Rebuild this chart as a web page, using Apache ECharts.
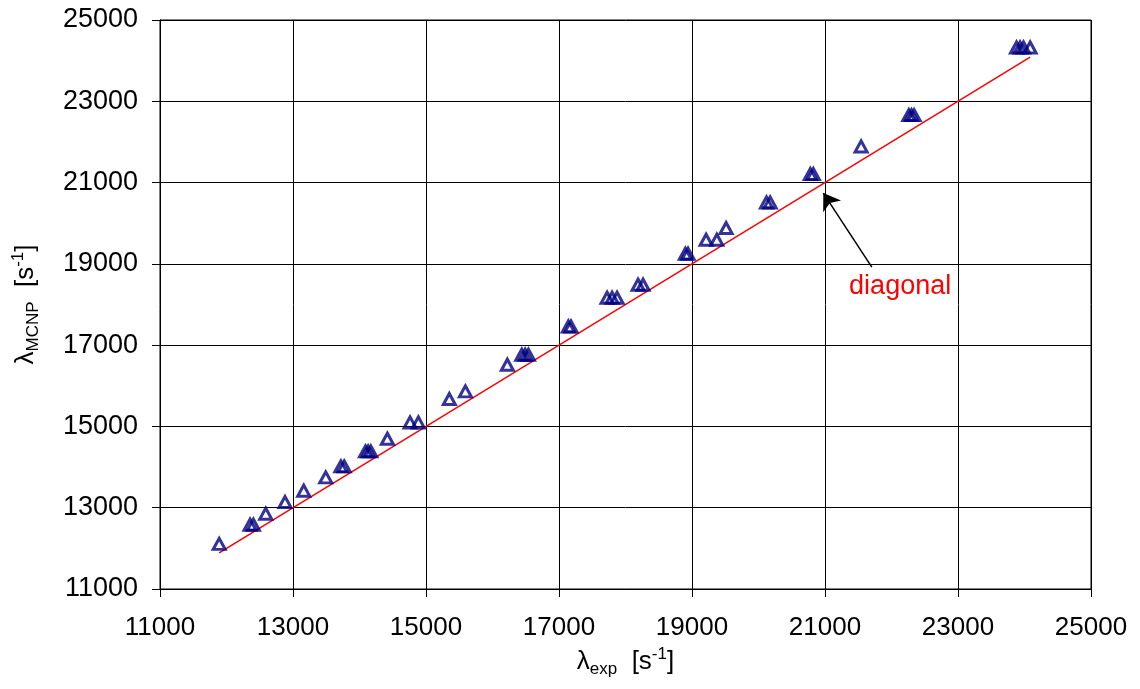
<!DOCTYPE html>
<html>
<head>
<meta charset="utf-8">
<script src="https://cdn.jsdelivr.net/npm/echarts@6/dist/echarts.min.js"></script>
<style>
html,body{margin:0;padding:0;background:#fff;}
#chart{width:1140px;height:689px;}
</style>
</head>
<body>
<div id="chart"></div>
<script>
// Experimental vs MCNP values (s^-1)
const lambdaExp = [11890,12354,12404,12590,12880,13161,13492,13720,13770,14090,14130,14170,14419,14760,14885,15351,15592,16223,16440,16490,16540,17140,17180,17723,17798,17873,18189,18264,18900,18940,19212,19373,19513,20120,20175,20780,20825,21543,22260,22300,22340,23880,23934,23985,24085];
const lambdaMCNP = [12110,12582,12582,12852,13140,13418,13745,14016,14016,14385,14385,14385,14697,15098,15098,15674,15861,16518,16764,16764,16764,17460,17460,18166,18166,18166,18486,18486,19249,19249,19593,19593,19881,20511,20511,21209,21209,21888,22660,22660,22660,24323,24323,24323,24323];
const diagonalX = [11890, 24085];
const diagonalY = [11890, 24085];
const yTicks = [11000,13000,15000,17000,19000,21000,23000,25000];
const xTicks = [11000,13000,15000,17000,19000,21000,23000,25000];
const arrowFrom = [21704, 18921];
const arrowTo = [20975, 20742];
const labelAt = [22130, 18430];
const labelText = 'diagonal';

const font = 'Liberation Sans, Arial, sans-serif';
const points = lambdaExp.map((x, i) => [x, lambdaMCNP[i]]);
const diag = diagonalX.map((x, i) => [x, diagonalY[i]]);
const plain = v => String(v);
const nameRich = {
  m: {fontFamily: font, fontSize: 26, color: '#000', lineHeight: 32, verticalAlign: 'middle'},
  sub: {fontFamily: font, fontSize: 17, color: '#000', lineHeight: 32, verticalAlign: 'bottom'},
  sup: {fontFamily: font, fontSize: 17, color: '#000', lineHeight: 32, verticalAlign: 'top'}
};

const chart = echarts.init(document.getElementById('chart'), null, {renderer: 'canvas'});
chart.setOption({
  animation: false,
  backgroundColor: '#fff',
  grid: {left: 160, right: 49, top: 20, bottom: 100, show: true, borderColor: '#000', borderWidth: 1},
  xAxis: {
    type: 'value', min: xTicks[0], max: xTicks[xTicks.length-1], interval: 2000,
    axisLine: {show: true, lineStyle: {color: '#000', width: 1}},
    axisTick: {show: true, length: 8, lineStyle: {color: '#000'}},
    axisLabel: {color: '#000', fontFamily: font, fontSize: 26, margin: 26, formatter: plain},
    splitLine: {show: true, lineStyle: {color: '#000', width: 1}},
    name: '{m|λ}{sub|exp}{m|  [s}{sup|-1}{m|]}',
    nameLocation: 'middle', nameGap: 52,
    nameTextStyle: {rich: nameRich}
  },
  yAxis: {
    type: 'value', min: yTicks[0], max: yTicks[yTicks.length-1], interval: 2000,
    axisLine: {show: true, lineStyle: {color: '#000', width: 1}},
    axisTick: {show: true, length: 8, lineStyle: {color: '#000'}},
    axisLabel: {color: '#000', fontFamily: font, fontSize: 27, margin: 22, formatter: plain},
    splitLine: {show: true, lineStyle: {color: '#000', width: 1}},
    name: '{m|λ}{sub|MCNP}{m|  [s}{sup|-1}{m|]}',
    nameLocation: 'middle', nameGap: 118, nameRotate: 90,
    nameTextStyle: {rich: nameRich}
  },
  series: [
    {
      type: 'line', data: diag, symbol: 'none', silent: true,
      lineStyle: {color: '#ff0000', width: 1.5}, z: 3,
      markLine: {
        silent: true, symbol: ['none', 'arrow'], symbolSize: 16,
        label: {show: false},
        lineStyle: {color: '#000', width: 1.5, type: 'solid'},
        itemStyle: {color: '#000'},
        z: 10,
        data: [[{coord: arrowFrom, symbol: 'none'}, {coord: arrowTo, symbol: 'arrow', symbolSize: 16}]]
      },
      markPoint: {
        silent: true, symbol: 'circle', symbolSize: 0,
        label: {show: true, position: 'inside', formatter: labelText, color: '#ff0000', fontFamily: font, fontSize: 27},
        data: [{coord: labelAt}]
      }
    },
    {
      type: 'scatter', data: points, symbol: 'triangle', symbolSize: [12, 11],
      itemStyle: {color: 'rgba(0,0,0,0)', borderColor: '#000080', borderWidth: 3},
      z: 4
    }
  ]
});
</script>
</body>
</html>
